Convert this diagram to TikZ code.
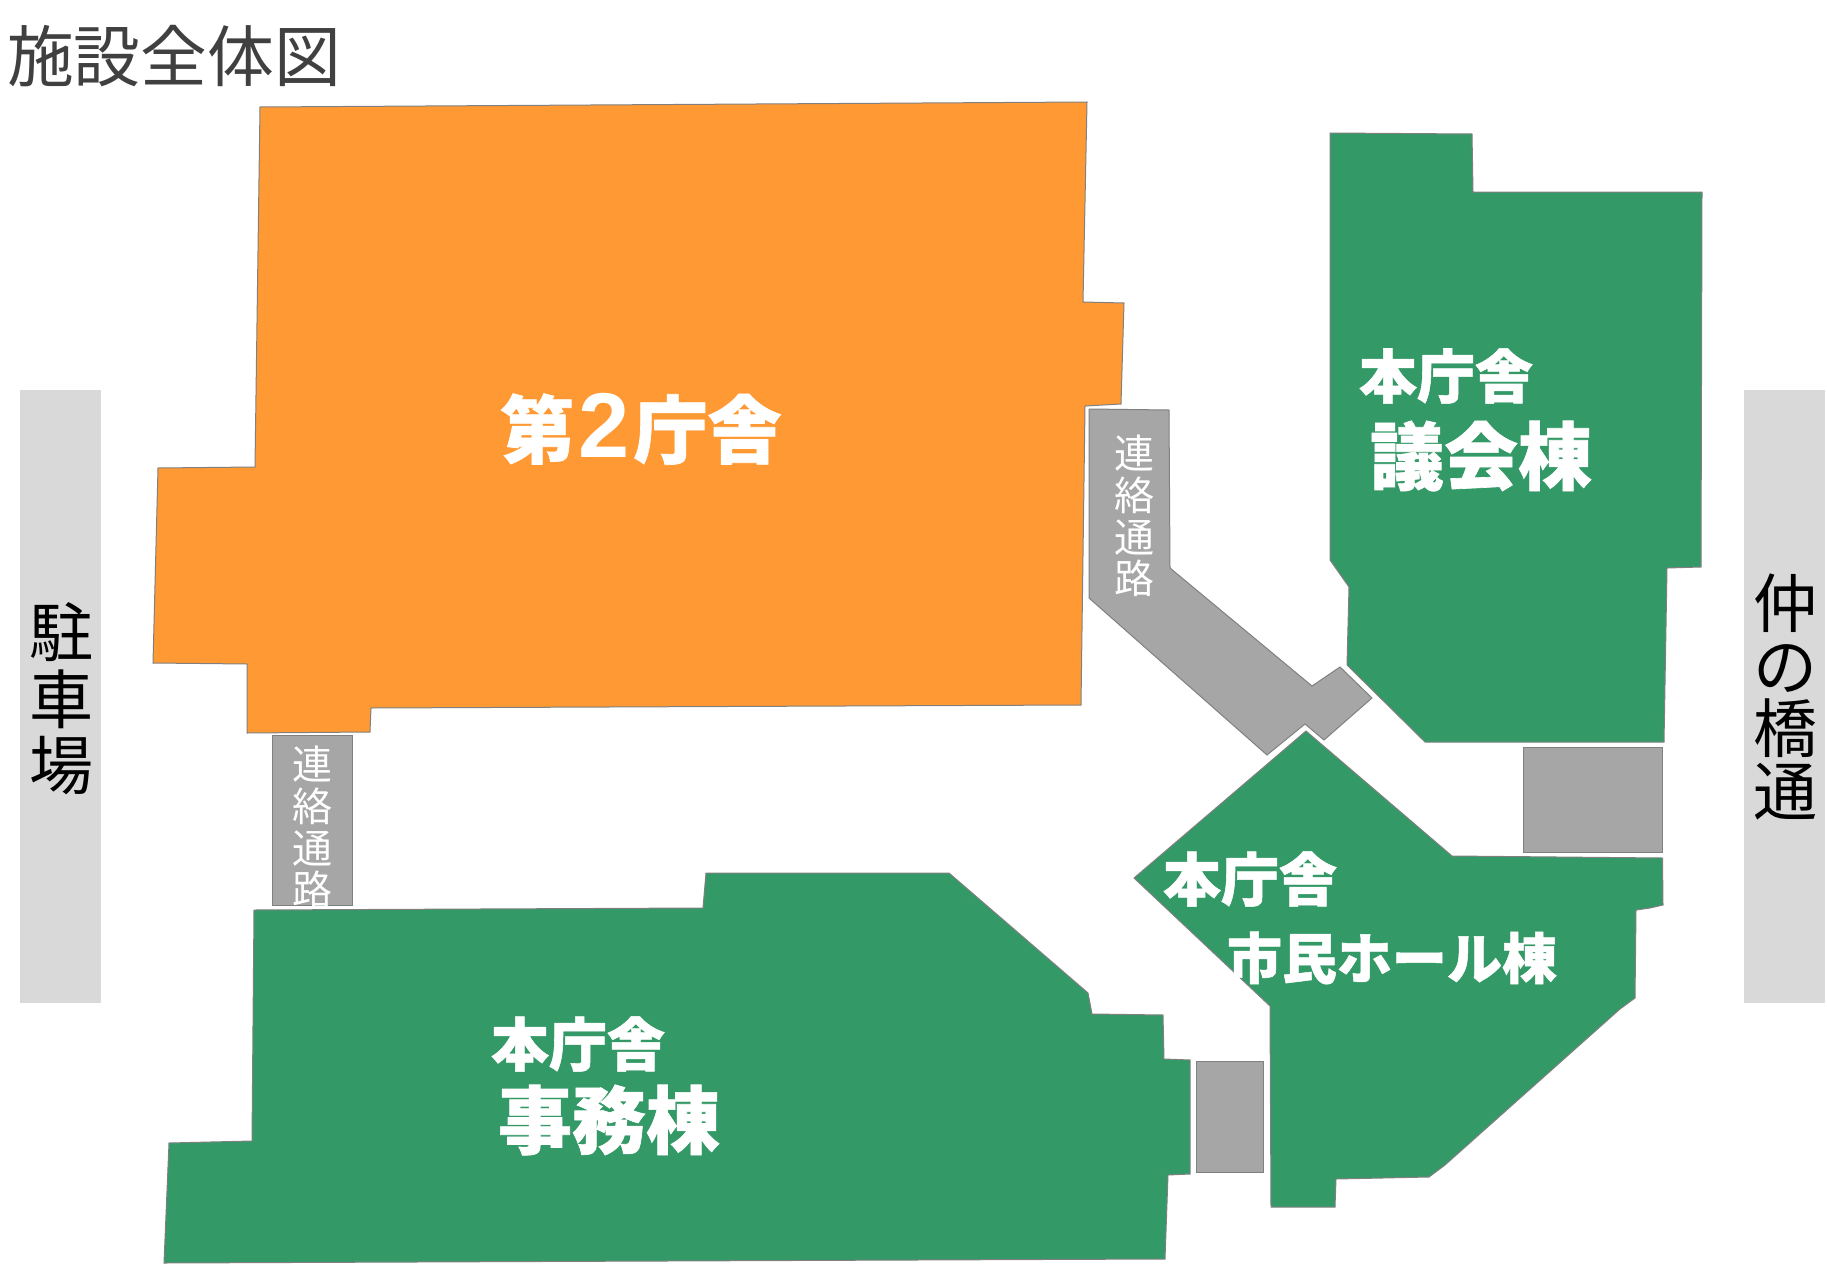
\documentclass[tikz,border=0pt]{standalone}
\usepackage{fontspec}
\setmainfont{Noto Sans CJK JP}[BoldFeatures={FakeBold=0.9}]
\newfontfamily\latinbold{Liberation Sans Bold}
\definecolor{orangeb}{HTML}{FF9933}
\definecolor{greenb}{HTML}{339966}
\definecolor{greyb}{HTML}{A6A6A6}
\definecolor{sideb}{HTML}{D9D9D9}
\definecolor{edgeb}{HTML}{808080}
\definecolor{titlec}{HTML}{404040}
\tikzset{
  bld/.style={draw=edgeb,line width=0.5pt,line join=miter},
  orangebld/.style={bld,fill=orangeb},
  greenbld/.style={bld,fill=greenb},
  passage/.style={bld,fill=greyb},
  sidebar/.style={fill=sideb},
  lab/.style={inner sep=0,align=center,text=white,font=\bfseries},
  corr/.style={inner sep=0,align=center,text=white,font=\fontsize{20}{20.85}\selectfont},
  sidetext/.style={inner sep=0,align=center,text=black,font=\fontsize{32}{#1}\selectfont},
  smalllab/.style={lab,font=\fontsize{29}{30}\selectfont\bfseries},
  biglab/.style={lab,font=\fontsize{37}{39}\selectfont\bfseries}
}
\begin{document}
\begin{tikzpicture}[x=0.5pt,y=-0.5pt]
\useasboundingbox (0,0) rectangle (1827,1274);
\node[inner sep=0,text=titlec,font=\fontsize{33.4}{36}\selectfont] (title) at (174,56) {施設全体図};
% side bars
\fill[sidebar] (20,390) rectangle (101,1003);
\fill[sidebar] (1744,390) rectangle (1825,1003);
\node[sidetext=33.2] (parking) at (61,699) {駐\\車\\場};
\node[sidetext=31.4] (street) at (1785,697) {仲\\の\\橋\\通};
% second building
\draw[orangebld] (260,107) -- (1087,102) -- (1083,302) -- (1124,303) -- (1121,404) -- (1085,406) -- (1081,705) -- (371,708) -- (370,732) -- (247,733) -- (247,664) -- (153,663) -- (158,468) -- (255,467) -- cycle;
% passages
\draw[passage] (272,735) rectangle (352,905);
\node[corr] (corrA) at (312,827) {連\\絡\\通\\路};
\draw[passage] (1089,409) -- (1169,410) -- (1170,568) -- (1312,686) -- (1340,667) -- (1372,698) -- (1324,740) -- (1305,724) -- (1267,755) -- (1089,598) -- cycle;
\node[corr] (corrB) at (1134,516) {連\\絡\\通\\路};
\draw[passage] (1523,747) rectangle (1662.5,852);
\draw[passage] (1196,1061) rectangle (1263,1172);
% green buildings
\draw[greenbld] (1330,133) -- (1472,134) -- (1473,192) -- (1702,192) -- (1701,567) -- (1667,568) -- (1664,742) -- (1425,742) -- (1347,665) -- (1349,587) -- (1330,560) -- cycle;
\draw[greenbld] (1306,731) -- (1452,856) -- (1662.5,858) -- (1663,905) -- (1650,908) -- (1636,910) -- (1635,998) -- (1620,1009) -- (1445,1165) -- (1429,1177) -- (1336,1179) -- (1335,1207) -- (1271,1207) -- (1270,1006) -- (1134,878) -- cycle;
\draw[greenbld] (254,910) -- (703,908) -- (706,873) -- (949,873) -- (1088,993) -- (1092,1014) -- (1163,1015) -- (1164,1059) -- (1190,1060) -- (1190,1174) -- (1168,1175) -- (1165,1259) -- (164,1263) -- (169,1143) -- (252,1141) -- cycle;
% labels
\node[lab,font=\fontsize{37}{39}\selectfont\bfseries] (second) at (641,429) {第{\latinbold\fontsize{46}{39}\selectfont\hspace{2pt}2\hspace{2pt}}庁舎};
\node[smalllab] (h1) at (1446,376) {本庁舎};
\node[biglab] (gikai) at (1481,456) {議会棟};
\node[smalllab] (h2) at (1250,879) {本庁舎};
\node[lab,font=\fontsize{27.5}{30}\selectfont\bfseries] (shimin) at (1392,958) {市民ホール棟};
\node[smalllab] (h3) at (578,1044) {本庁舎};
\node[biglab] (jimu) at (609,1120) {事務棟};
\end{tikzpicture}
\end{document}
